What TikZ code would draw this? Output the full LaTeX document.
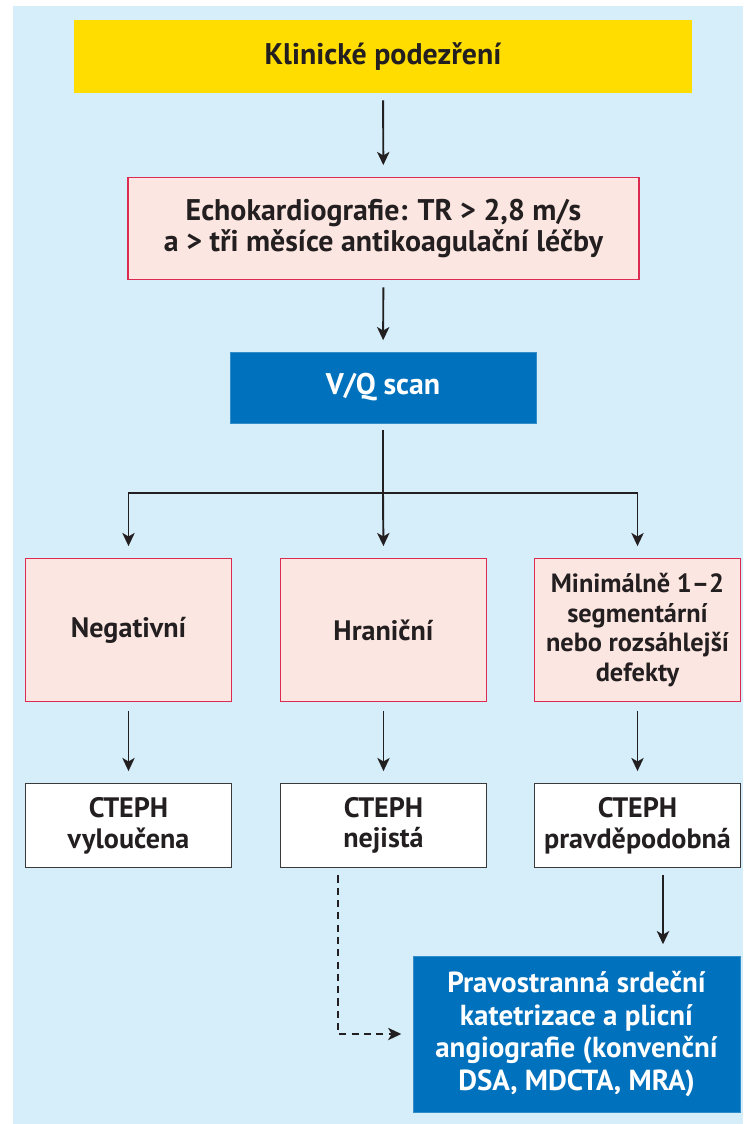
\documentclass[tikz,border=0pt]{standalone}
\usepackage{fontspec}
\setmainfont{PT Sans}
\usetikzlibrary{arrows.meta,positioning,calc}
\definecolor{panelblue}{HTML}{D5EEFA}
\definecolor{suspyellow}{HTML}{FFDD00}
\definecolor{findpink}{HTML}{FCE6E1}
\definecolor{findred}{HTML}{DC2A50}
\definecolor{scanblue}{HTML}{0071BC}
\definecolor{inkdark}{HTML}{231F20}
\definecolor{verdictgray}{HTML}{3A3A3A}
\tikzset{
  txt/.style={font=\bfseries\fontsize{16}{17.5}\selectfont, text=inkdark,
    align=center, inner sep=2pt},
  bigtxt/.style={font=\bfseries\fontsize{17}{17.5}\selectfont},
  suspbox/.style={txt, bigtxt, fill=suspyellow, minimum width=12.36cm, minimum height=1.46cm},
  findbox/.style={txt, draw=findred, fill=findpink, line width=1.1pt},
  scanbox/.style={txt, fill=scanblue, text=white, draw=scanblue!80!white, line width=0.4pt},
  verdict/.style={txt, draw=verdictgray, fill=white, line width=1.1pt,
    minimum width=4.12cm, minimum height=1.68cm},
  result/.style={findbox, minimum width=4.12cm, minimum height=2.86cm, inner sep=1pt},
  flow/.style={-{Stealth[length=7.5pt,width=7pt,inset=2pt]}, line width=1.1pt,
    color=inkdark, shorten <=4pt, shorten >=6.5pt},
  dflow/.style={flow, dash pattern=on 4pt off 3pt, line width=0.9pt},
}
\begin{document}
\begin{tikzpicture}[x=0.02cm,y=-0.02cm]
  \useasboundingbox (0,0) rectangle (743,1124);
  \fill[panelblue] (13,6) rectangle (743,1124);
  % main chain
  \node[suspbox] (klin) at (383,56.5) {Klinické podezření};
  \node[findbox, bigtxt, minimum width=10.24cm, minimum height=2.04cm] (echo) at (383.5,228.5)
      {Echokardiografie: TR > 2,8 m/s\\a > tři měsíce antikoagulační léčby};
  \node[scanbox, bigtxt, minimum width=6.12cm, minimum height=1.42cm] (vq) at (383,387.5) {V/Q scan};
  \draw[flow] (klin) -- (echo);
  \draw[flow] (echo) -- (vq);
  % scan findings
  \node[result] (neg) at (128.5,630) {Negativní};
  \node[result] (hran) at (383.5,630) {Hraniční};
  \node[result, font=\bfseries\fontsize{15}{17}\selectfont] (defk) at (637.5,630)
      {Minimálně 1--2\\segmentární\\nebo rozsáhlejší\\defekty};
  \coordinate (split) at (383,493);
  \draw[line width=1.1pt, inkdark, shorten <=4pt] (vq) -- (split);
  \draw[flow, shorten <=0pt] (split) -| (neg.north);
  \draw[flow, shorten <=0pt] (split) -- (hran.north);
  \draw[flow, shorten <=0pt] (split) -| (defk.north);
  % what it means
  \foreach \src/\dst/\x/\t in {neg/vyl/128.5/{CTEPH\\vyloučena},
      hran/nej/383.5/{CTEPH\\nejistá}, defk/prav/637.5/{CTEPH\\pravděpodobná}} {
    \node[verdict] (\dst) at (\x,825.5) {\t};
    \draw[flow, shorten <=5pt] (\src) -- (\dst);
  }
  % next step
  \node[scanbox, font=\bfseries\fontsize{16.5}{18.5}\selectfont, minimum width=6.54cm,
        minimum height=3.12cm] (kat) at (576.5,1034)
      {Pravostranná srdeční\\katetrizace a plicní\\angiografie (konvenční\\DSA, MDCTA, MRA)};
  \coordinate (pin) at ([xshift=0.51cm]prav.south);
  \draw[flow] (pin) -- (pin |- kat.north);
  \draw[dflow] ([xshift=-0.91cm]nej.south) |- (kat.west);
\end{tikzpicture}
\end{document}
